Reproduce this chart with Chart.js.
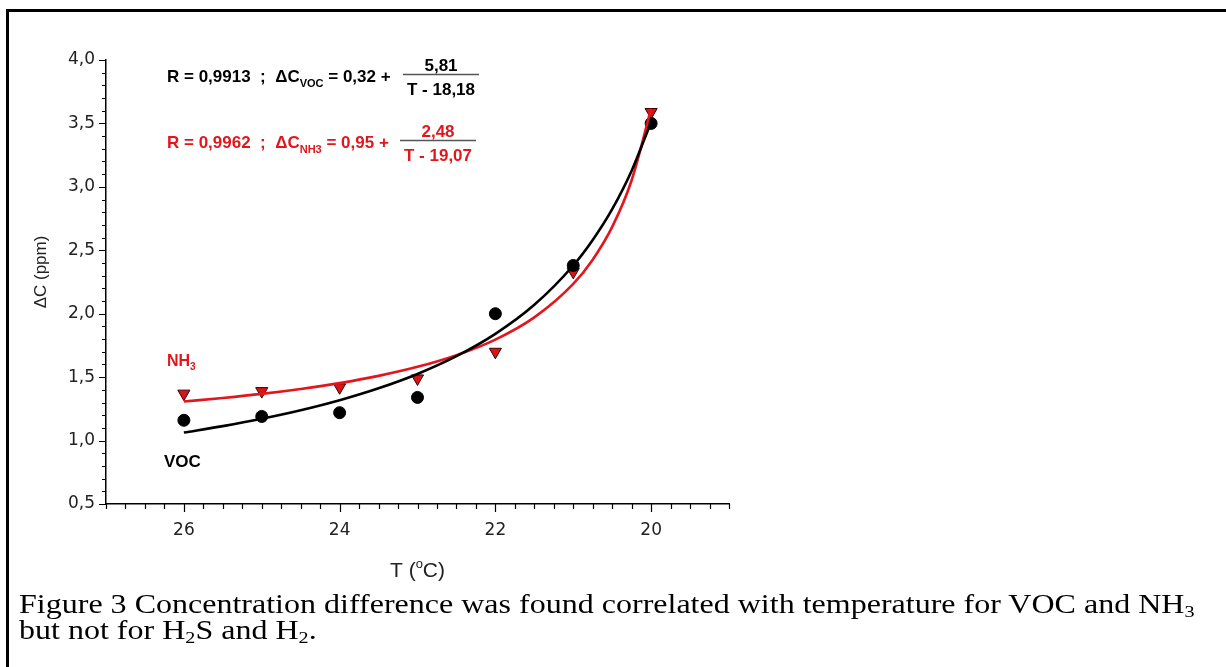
<!DOCTYPE html>
<html>
<head>
<meta charset="utf-8">
<script src="https://cdn.jsdelivr.net/npm/chart.js@4.4.1/dist/chart.umd.min.js"></script>
<style>
  html, body { margin: 0; padding: 0; background: #fff; }
  body { width: 1226px; height: 667px; position: relative; overflow: hidden; }
  #frame { position: absolute; left: 6px; top: 9px; right: 0; bottom: 0; border-top: 3px solid #000; border-left: 3px solid #000; }
  #wrap { position: absolute; left: 0; top: 0; width: 1226px; height: 590px; }
  #caption { position: absolute; left: 19px; top: 591px; font-family: "Liberation Serif", "Times New Roman", serif; font-size: 27px; line-height: 26px; color: #000; white-space: nowrap; transform: scaleX(1.186); transform-origin: 0 0; }
  #caption sub { font-size: 17px; line-height: 0; vertical-align: -4px; }
</style>
</head>
<body>
<div id="frame"></div>
<div id="wrap"><canvas id="c" width="1226" height="590"></canvas></div>
<div id="caption">Figure 3 Concentration difference was found correlated with temperature for VOC and NH<sub>3</sub><br>but not for H<sub>2</sub>S and H<sub>2</sub>.</div>
<script>
// ---- data ----
const temperatures = [26, 25, 24, 23, 22, 21, 20];
const vocValues = [1.16, 1.19, 1.22, 1.34, 2.00, 2.38, 3.50];
const nh3Values = [1.37, 1.39, 1.42, 1.49, 1.70, 2.33, 3.59];

// fitted curves as drawn in the picture
const fitTemperatures = [26, 25.5, 25, 24.5, 24, 23.5, 23, 22.5, 22, 21.5, 21, 20.75, 20.5, 20.25, 20];
const vocFit = [1.063, 1.114, 1.172, 1.239, 1.318, 1.412, 1.525, 1.665, 1.841, 2.070, 2.380, 2.581, 2.824, 3.127, 3.512];
const nh3Fit = [1.308, 1.336, 1.368, 1.407, 1.453, 1.510, 1.581, 1.673, 1.796, 1.971, 2.235, 2.426, 2.684, 3.052, 3.617];

// axis ticks
const xTickValues = [26, 24, 22, 20];
const yTickValues = [0.5, 1.0, 1.5, 2.0, 2.5, 3.0, 3.5, 4.0];
const xRange = [19, 27];
const yRange = [0.5, 4.0];
const xMinorStep = 0.25;
const yMinorStep = 0.1;

const RED = '#e3151d';
const LABEL_GREY = '#222';
const SANS = '"Liberation Sans", Arial, sans-serif';
const TICK_FONT = '"DejaVu Sans", sans-serif';

function pairs(xs, ys) { return xs.map((x, i) => ({ x: x, y: ys[i] })); }

const minorTicks = {
  id: 'minorTicks',
  afterDraw(chart) {
    const ctx = chart.ctx;
    const xs = chart.scales.x, ys = chart.scales.y;
    const area = chart.chartArea;
    ctx.save();
    ctx.strokeStyle = '#000';
    ctx.lineWidth = 1.2;
    ctx.beginPath();
    const ny = Math.round((yRange[1] - yRange[0]) / yMinorStep);
    for (let i = 0; i <= ny; i++) {
      const v = yRange[0] + i * yMinorStep;
      const major = yTickValues.some(t => Math.abs(t - v) < 1e-6);
      const py = Math.round(ys.getPixelForValue(v)) + 0.5;
      const len = major ? 7 : 4;
      ctx.moveTo(area.left - len, py);
      ctx.lineTo(area.left, py);
    }
    const nx = Math.round((xRange[1] - xRange[0]) / xMinorStep);
    for (let i = 0; i <= nx; i++) {
      const v = xRange[0] + i * xMinorStep;
      const major = xTickValues.some(t => Math.abs(t - v) < 1e-6);
      const px = Math.round(xs.getPixelForValue(v)) + 0.5;
      const len = major ? 8 : 5;
      ctx.moveTo(px, area.bottom);
      ctx.lineTo(px, area.bottom + len);
    }
    ctx.stroke();
    ctx.restore();
  }
};

function txt(ctx, s, x, y, font, color, align) {
  ctx.font = font;
  ctx.fillStyle = color;
  ctx.textAlign = align || 'left';
  ctx.textBaseline = 'alphabetic';
  ctx.fillText(s, x, y);
  return ctx.measureText(s).width;
}

function equation(ctx, x, y, rText, sub, constText, num, den, color, fracCenter) {
  const big = 'bold 17px ' + SANS;
  const small = 'bold 11px ' + SANS;
  let cx = x;
  cx += txt(ctx, rText, cx, y, big, color);
  cx += txt(ctx, sub, cx, y + 5, small, color);
  cx += txt(ctx, constText, cx, y, big, color);
  ctx.font = big;
  const w = Math.max(ctx.measureText(num).width, ctx.measureText(den).width) + 8;
  txt(ctx, num, fracCenter, y - 11, big, color, 'center');
  txt(ctx, den, fracCenter, y + 13, big, color, 'center');
  ctx.save();
  ctx.strokeStyle = '#555';
  ctx.lineWidth = 1.3;
  ctx.beginPath();
  ctx.moveTo(fracCenter - w / 2, y - 7.5);
  ctx.lineTo(fracCenter + w / 2, y - 7.5);
  ctx.stroke();
  ctx.restore();
}

const annotations = {
  id: 'annotations',
  afterDraw(chart) {
    const ctx = chart.ctx;
    const area = chart.chartArea;
    ctx.save();
    equation(ctx, 167, 82, 'R = 0,9913  ;  \u0394C', 'VOC', ' = 0,32 + ', '5,81', 'T - 18,18', '#000', 441);
    equation(ctx, 167, 148, 'R = 0,9962  ;  \u0394C', 'NH3', ' = 0,95 + ', '2,48', 'T - 19,07', RED, 438);
    // series labels
    let w = txt(ctx, 'NH', 167, 366, 'bold 16px ' + SANS, RED);
    txt(ctx, '3', 167 + w, 370, 'bold 10px ' + SANS, RED);
    txt(ctx, 'VOC', 164, 467, 'bold 17px ' + SANS, '#000');
    // x axis title with superscript
    const tFont = '21px ' + SANS;
    const sFont = '13px ' + SANS;
    ctx.font = tFont;
    const p1 = 'T (', p3 = 'C)';
    const w1 = ctx.measureText(p1).width;
    const w3 = ctx.measureText(p3).width;
    ctx.font = sFont;
    const w2 = ctx.measureText('o').width;
    const cxm = (area.left + area.right) / 2;
    let sx = cxm - (w1 + w2 + w3) / 2;
    sx += txt(ctx, p1, sx, 577, tFont, LABEL_GREY);
    sx += txt(ctx, 'o', sx, 568, sFont, LABEL_GREY);
    txt(ctx, p3, sx, 577, tFont, LABEL_GREY);
    // y axis title rotated
    ctx.translate(46, 272);
    ctx.rotate(-Math.PI / 2);
    txt(ctx, '\u0394C (ppm)', 0, 0, '17px ' + SANS, LABEL_GREY, 'center');
    ctx.restore();
  }
};

const chart = new Chart(document.getElementById('c'), {
  type: 'scatter',
  data: {
    datasets: [
      {
        label: 'VOC fit',
        data: pairs(fitTemperatures, vocFit),
        showLine: true,
        borderColor: '#000',
        borderWidth: 2.6,
        pointRadius: 0,
        cubicInterpolationMode: 'monotone'
      },
      {
        label: 'NH3 fit',
        data: pairs(fitTemperatures, nh3Fit),
        showLine: true,
        borderColor: RED,
        borderWidth: 2.6,
        pointRadius: 0,
        cubicInterpolationMode: 'monotone'
      },
      {
        label: 'VOC',
        data: pairs(temperatures, vocValues),
        pointStyle: 'circle',
        pointRadius: 6,
        backgroundColor: '#000',
        borderColor: '#000',
        borderWidth: 1
      },
      {
        label: 'NH3',
        data: pairs(temperatures, nh3Values),
        pointStyle: 'triangle',
        rotation: 180,
        pointRadius: 7,
        backgroundColor: '#d81414',
        borderColor: '#3a0000',
        borderWidth: 1
      }
    ]
  },
  options: {
    responsive: false,
    animation: false,
    events: [],
    layout: { padding: { left: 0, right: 497, top: 60, bottom: 0 } },
    plugins: { legend: { display: false }, tooltip: { enabled: false } },
    scales: {
      x: {
        type: 'linear',
        reverse: true,
        min: xRange[0],
        max: xRange[1],
        afterBuildTicks: s => { s.ticks = xTickValues.map(v => ({ value: v })); },
        afterFit: s => { s.height = 86; },
        grid: { display: false, drawTicks: false },
        border: { display: true, color: '#000', width: 1.5 },
        ticks: { padding: 16, color: LABEL_GREY, font: { family: TICK_FONT, size: 17 }, callback: v => String(v) }
      },
      y: {
        type: 'linear',
        min: yRange[0],
        max: yRange[1],
        afterBuildTicks: s => { s.ticks = yTickValues.map(v => ({ value: v })); },
        afterFit: s => { s.width = 106; },
        grid: { display: false, drawTicks: false },
        border: { display: true, color: '#000', width: 1.5 },
        ticks: { padding: 11, color: LABEL_GREY, font: { family: TICK_FONT, size: 17 }, callback: v => v.toFixed(1).replace('.', ',') }
      }
    }
  },
  plugins: [minorTicks, annotations]
});
</script>
</body>
</html>
